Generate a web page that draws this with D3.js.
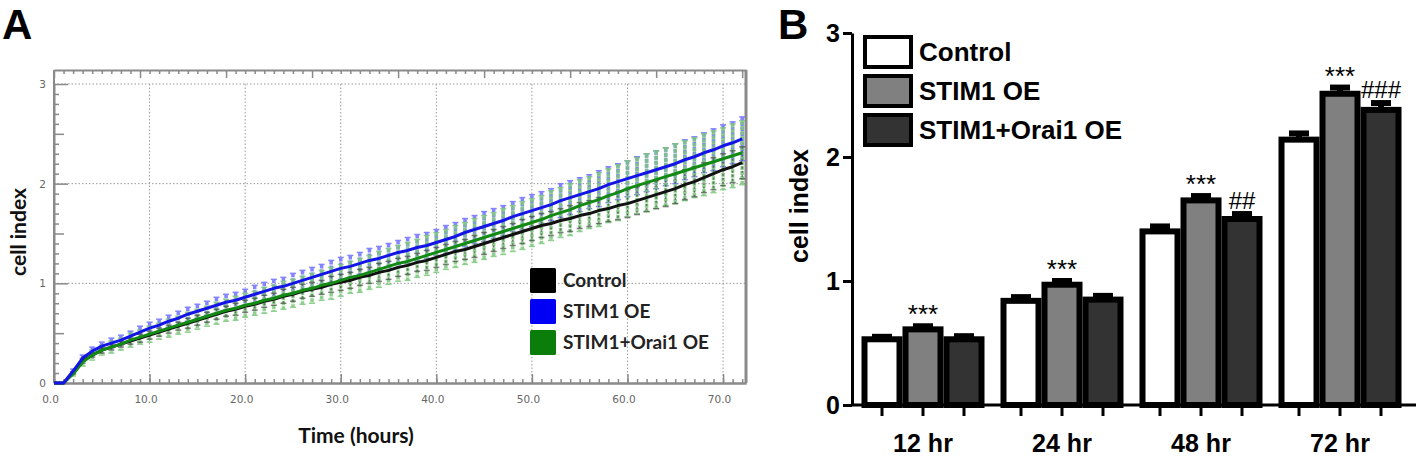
<!DOCTYPE html>
<html>
<head>
<meta charset="utf-8">
<script src="https://cdn.jsdelivr.net/npm/d3@7"></script>
<style>
  body { margin: 0; background: #fff; }
  svg { display: block; }
</style>
</head>
<body>
<svg id="chart" width="1418" height="462"></svg>
<script>
// ---------- data: panel A (real-time cell index) ----------
var timeHours = [0,1,2,3,4,5,6,7,8,9,10,11,12,13,14,15,16,17,18,19,20,21,22,23,24,25,26,27,28,29,30,
  31,32,33,34,35,36,37,38,39,40,41,42,43,44,45,46,47,48,49,50,51,52,53,54,55,56,57,58,59,60,
  61,62,63,64,65,66,67,68,69,70,71,72];

var controlMean = [0,0,0.10,0.22,0.28,0.33,0.36,0.39,0.42,0.45,0.48,
  0.51,0.54,0.57,0.60,0.63,0.66,0.69,0.72,0.74,0.77,
  0.79,0.82,0.84,0.87,0.89,0.92,0.94,0.96,0.99,1.01,
  1.03,1.06,1.08,1.11,1.13,1.16,1.18,1.21,1.23,1.26,
  1.29,1.32,1.34,1.37,1.40,1.43,1.46,1.49,1.52,1.55,
  1.58,1.60,1.63,1.65,1.68,1.70,1.73,1.75,1.78,1.80,
  1.83,1.86,1.89,1.92,1.95,1.99,2.02,2.06,2.10,2.14,2.17,2.21];

var stim1Mean = [0,0,0.12,0.25,0.32,0.37,0.40,0.43,0.47,0.51,0.55,
  0.58,0.62,0.65,0.69,0.72,0.75,0.78,0.81,0.83,0.86,
  0.89,0.92,0.95,0.97,1.00,1.03,1.06,1.09,1.12,1.15,
  1.17,1.20,1.23,1.25,1.28,1.31,1.33,1.36,1.38,1.41,
  1.44,1.47,1.51,1.54,1.57,1.60,1.63,1.67,1.70,1.73,
  1.76,1.79,1.83,1.86,1.89,1.92,1.95,1.99,2.02,2.05,
  2.08,2.11,2.14,2.17,2.20,2.24,2.27,2.31,2.34,2.38,2.41,2.45];

var orai1Mean = [0,0,0.09,0.21,0.28,0.33,0.36,0.39,0.43,0.46,0.49,
  0.52,0.55,0.58,0.61,0.64,0.67,0.70,0.73,0.75,0.78,
  0.80,0.83,0.85,0.88,0.90,0.93,0.95,0.98,1.00,1.03,
  1.06,1.08,1.11,1.14,1.17,1.20,1.22,1.25,1.28,1.31,
  1.34,1.37,1.40,1.43,1.46,1.49,1.52,1.55,1.58,1.61,
  1.64,1.68,1.71,1.74,1.78,1.81,1.84,1.88,1.91,1.95,
  1.98,2.01,2.04,2.07,2.10,2.13,2.16,2.19,2.22,2.25,2.28,2.31];

var controlErr = [0,0,0.01,0.02,0.02,0.03,0.03,0.03,0.03,0.04,0.04,
  0.04,0.04,0.04,0.05,0.05,0.05,0.05,0.05,0.06,0.06,
  0.06,0.06,0.06,0.07,0.07,0.07,0.07,0.07,0.08,0.08,
  0.08,0.08,0.08,0.09,0.09,0.09,0.09,0.09,0.10,0.10,
  0.10,0.10,0.10,0.11,0.11,0.11,0.11,0.11,0.12,0.12,
  0.12,0.12,0.12,0.13,0.13,0.13,0.13,0.13,0.14,0.14,
  0.14,0.14,0.14,0.15,0.15,0.15,0.15,0.15,0.16,0.16,0.16,0.16];

var stim1Err = [0,0,0.02,0.03,0.04,0.04,0.05,0.05,0.05,0.06,0.06,
  0.06,0.06,0.07,0.07,0.07,0.07,0.08,0.08,0.08,0.08,
  0.09,0.09,0.09,0.09,0.10,0.10,0.10,0.10,0.11,0.11,
  0.11,0.11,0.12,0.12,0.12,0.12,0.13,0.13,0.13,0.13,
  0.14,0.14,0.14,0.14,0.15,0.15,0.15,0.15,0.16,0.16,
  0.16,0.16,0.17,0.17,0.17,0.17,0.18,0.18,0.18,0.18,
  0.19,0.19,0.19,0.19,0.20,0.20,0.20,0.20,0.21,0.21,0.21,0.22];

var orai1Err = [0,0,0.02,0.04,0.05,0.05,0.06,0.06,0.07,0.07,0.08,
  0.08,0.09,0.09,0.10,0.10,0.10,0.11,0.11,0.12,0.12,
  0.12,0.13,0.13,0.14,0.14,0.14,0.15,0.15,0.16,0.16,
  0.16,0.17,0.17,0.18,0.18,0.18,0.19,0.19,0.20,0.20,
  0.20,0.21,0.21,0.22,0.22,0.22,0.23,0.23,0.24,0.24,
  0.24,0.25,0.25,0.26,0.26,0.26,0.27,0.27,0.28,0.28,
  0.28,0.29,0.29,0.29,0.30,0.30,0.30,0.31,0.31,0.31,0.32,0.32];

var lineSeries = ["Control", "STIM1 OE", "STIM1+Orai1 OE"];
var xTicksA = [0, 10, 20, 30, 40, 50, 60, 70];
var yTicksA = [0, 1, 2, 3];

// ---------- data: panel B (bar chart) ----------
var timeGroups = ["12 hr", "24 hr", "48 hr", "72 hr"];
var barSeries = ["Control", "STIM1 OE", "STIM1+Orai1 OE"];
var controlBar = [0.53, 0.84, 1.40, 2.14];
var stim1Bar = [0.61, 0.97, 1.65, 2.51];
var orai1Bar = [0.53, 0.85, 1.50, 2.38];
var controlSem = [0.02, 0.03, 0.04, 0.05];
var stim1Sem = [0.025, 0.03, 0.035, 0.05];
var orai1Sem = [0.025, 0.03, 0.04, 0.055];
var stim1Marks = ["***", "***", "***", "***"];
var orai1Marks = ["", "", "##", "###"];
var yTicksB = [0, 1, 2, 3];

var svg = d3.select("#chart");

// panel letters
svg.append("text").attr("x", 2).attr("y", 39)
    .style("font-family", "Liberation Sans, Arial, sans-serif")
    .style("font-weight", "bold").style("font-size", "42px").text("A");
svg.append("text").attr("x", 778).attr("y", 39)
    .style("font-family", "Liberation Sans, Arial, sans-serif")
    .style("font-weight", "bold").style("font-size", "42px").text("B");

// ================= Panel A =================
var xA = d3.scaleLinear().domain([0, 72.4]).range([54, 746]);
var yA = d3.scaleLinear().domain([0, 3]).range([383, 84]);
var frameTop = 70;
var gA = svg.append("g");
var axisGray = "#8a8a8a";

// dotted grid
gA.selectAll(".vgrid").data(xTicksA.slice(1)).join("line")
    .attr("class", "vgrid")
    .attr("x1", d => xA(d)).attr("x2", d => xA(d))
    .attr("y1", yA(3)).attr("y2", yA(0))
    .attr("stroke", "#9a9a9a").attr("stroke-width", 1)
    .attr("stroke-dasharray", "1.5,2");
gA.selectAll(".hgrid").data(yTicksA.slice(1)).join("line")
    .attr("class", "hgrid")
    .attr("x1", xA(0)).attr("x2", xA(72.4))
    .attr("y1", d => yA(d)).attr("y2", d => yA(d))
    .attr("stroke", "#9a9a9a").attr("stroke-width", 1)
    .attr("stroke-dasharray", "1.5,2");

function styleAxisA(g) {
    g.selectAll("path").attr("stroke", axisGray).attr("stroke-width", 2);
    g.selectAll("line").attr("stroke", axisGray).attr("stroke-width", 1.5);
    g.selectAll("text").attr("fill", "#666")
        .style("font-family", "DejaVu Sans, sans-serif").style("font-size", "10.5px");
}

// bottom axis: minor ticks every hour, major every 10 h, all pointing up
gA.append("g").attr("transform", "translate(0,383)")
    .call(d3.axisBottom(xA).tickValues(timeHours).tickSize(-4).tickSizeOuter(0).tickFormat(""))
    .call(styleAxisA);
gA.append("g").attr("transform", "translate(0,383)")
    .call(d3.axisBottom(xA).tickValues(xTicksA).tickSize(-9).tickSizeOuter(0)
        .tickPadding(13).tickFormat(d3.format(".1f")))
    .call(styleAxisA)
    .call(g => g.selectAll("text").attr("dx", -4));

// top frame with its own ticks (every hour, long every 9 h)
gA.append("g").attr("transform", "translate(0," + frameTop + ")")
    .call(d3.axisBottom(xA).tickValues(timeHours).tickSize(4).tickSizeOuter(0).tickFormat(""))
    .call(styleAxisA)
    .call(g => g.selectAll(".tick line").attr("y2", d => d % 9 === 0 ? 8 : 4));

// left axis: minor 0.1, mid 0.5, major 1
var minorY = d3.range(0, 31).map(i => i / 10);
gA.append("g").attr("transform", "translate(54,0)")
    .call(d3.axisLeft(yA).tickValues(minorY).tickSize(-5).tickSizeOuter(0).tickFormat(""))
    .call(styleAxisA)
    .call(g => g.selectAll(".tick line").attr("x2", (d, i) => i % 10 === 0 ? 14 : (i % 5 === 0 ? 10 : 5)));
gA.append("g").attr("transform", "translate(54,0)")
    .call(d3.axisLeft(yA).tickValues(yTicksA).tickSize(0).tickSizeOuter(0).tickPadding(8).tickFormat(d3.format("d")))
    .call(styleAxisA)
    .call(g => g.select("path").attr("d", "M0," + frameTop + "V383"));

// right frame line
gA.append("line")
    .attr("x1", xA(72.4)).attr("x2", xA(72.4))
    .attr("y1", frameTop).attr("y2", 383)
    .attr("stroke", axisGray).attr("stroke-width", 3);

// error bars + lines
var seriesA = [
    { name: "STIM1 OE", mean: stim1Mean, err: stim1Err, line: "#1414e6", bar: "#7777ff", op: 0.9 },
    { name: "STIM1+Orai1 OE", mean: orai1Mean, err: orai1Err, line: "#138a13", bar: "#7cc77c", op: 0.85 },
    { name: "Control", mean: controlMean, err: controlErr, line: "#111111", bar: "#333333", op: 0.6 }
];

seriesA.forEach(function(s) {
    var pts = timeHours.map((t, i) => ({ t: t, v: s.mean[i], e: s.err[i] })).filter(p => p.e > 0);
    var eg = gA.append("g").attr("opacity", s.op);
    eg.selectAll("line.eb").data(pts).join("line")
        .attr("class", "eb")
        .attr("x1", d => xA(d.t)).attr("x2", d => xA(d.t))
        .attr("y1", d => yA(d.v + d.e)).attr("y2", d => yA(d.v - d.e))
        .attr("stroke", s.bar).attr("stroke-width", s.name === "Control" ? 1.5 : 3.5)
        .attr("stroke-dasharray", s.name === "Control" ? "2,2" : "4,1");
    eg.selectAll("line.cap").data(pts.flatMap(d => [d.v + d.e, d.v - d.e].map(y => ({ t: d.t, y: y })))).join("line")
        .attr("class", "cap")
        .attr("x1", d => xA(d.t) - 3).attr("x2", d => xA(d.t) + 3)
        .attr("y1", d => yA(d.y)).attr("y2", d => yA(d.y))
        .attr("stroke", s.bar).attr("stroke-width", 1.5);
});

var lineA = d3.line().x((d, i) => xA(timeHours[i])).y(d => yA(d));
[seriesA[2], seriesA[1], seriesA[0]].forEach(function(s) {
    gA.append("path").datum(s.mean)
        .attr("d", lineA)
        .attr("fill", "none")
        .attr("stroke", s.line)
        .attr("stroke-width", 3)
        .attr("stroke-linejoin", "round");
});

// axis titles A
gA.append("text")
    .attr("x", 356).attr("y", 443)
    .attr("text-anchor", "middle")
    .style("font-family", "Lato, sans-serif").style("font-weight", "bold").style("font-size", "21px")
    .attr("fill", "#111").text("Time (hours)");
gA.append("text")
    .attr("transform", "translate(26,232) rotate(-90)")
    .attr("text-anchor", "middle")
    .style("font-family", "Lato, sans-serif").style("font-weight", "bold").style("font-size", "21px")
    .attr("fill", "#111").text("cell index");

// legend A
var legendColorsA = { "Control": "#000000", "STIM1 OE": "#0000f5", "STIM1+Orai1 OE": "#0a7d0a" };
var legA = gA.append("g").attr("transform", "translate(530,268)");
lineSeries.forEach(function(name, i) {
    legA.append("rect")
        .attr("x", 0).attr("y", i * 31)
        .attr("width", 26).attr("height", 25)
        .attr("rx", 1.5)
        .attr("fill", legendColorsA[name]);
    legA.append("text")
        .attr("x", 33).attr("y", i * 31 + 12.5).attr("dy", "0.35em")
        .style("font-family", "Lato, sans-serif").style("font-weight", "bold").style("font-size", "19px")
        .attr("fill", "#222").text(name);
});

// ================= Panel B =================
var yB = d3.scaleLinear().domain([0, 3]).range([405, 33]);
var xGroup = d3.scalePoint().domain(timeGroups).range([923, 1340]);
var xSub = d3.scaleBand().domain(barSeries).range([-61.5, 61.5]);
var gB = svg.append("g");
var fontB = "Liberation Sans, Arial, sans-serif";

var barFill = { "Control": "#ffffff", "STIM1 OE": "#808080", "STIM1+Orai1 OE": "#333333" };
var barData = [];
timeGroups.forEach(function(g, i) {
    barData.push({ group: g, series: "Control", v: controlBar[i], e: controlSem[i], mark: "" });
    barData.push({ group: g, series: "STIM1 OE", v: stim1Bar[i], e: stim1Sem[i], mark: stim1Marks[i] });
    barData.push({ group: g, series: "STIM1+Orai1 OE", v: orai1Bar[i], e: orai1Sem[i], mark: orai1Marks[i] });
});
function barCx(d) { return xGroup(d.group) + xSub(d.series) + xSub.bandwidth() / 2; }

var barW = 35;
// error bars (drawn first, upper half only)
gB.selectAll(".err").data(barData).join("line")
    .attr("x1", barCx).attr("x2", barCx)
    .attr("y1", d => yB(d.v)).attr("y2", d => yB(d.v + d.e))
    .attr("stroke", "#000").attr("stroke-width", 6);
gB.selectAll(".cap").data(barData).join("line")
    .attr("x1", d => barCx(d) - 10).attr("x2", d => barCx(d) + 10)
    .attr("y1", d => yB(d.v + d.e)).attr("y2", d => yB(d.v + d.e))
    .attr("stroke", "#000").attr("stroke-width", 6);

gB.selectAll(".bar").data(barData).join("rect")
    .attr("x", d => barCx(d) - barW / 2)
    .attr("width", barW)
    .attr("y", d => yB(d.v))
    .attr("height", d => yB(0) - yB(d.v))
    .attr("fill", d => barFill[d.series])
    .attr("stroke", "#000").attr("stroke-width", 6);

// significance marks
gB.selectAll(".mark").data(barData.filter(d => d.mark)).join("text")
    .attr("x", barCx)
    .attr("y", d => yB(d.v + d.e) - (d.mark[0] === "*" ? 3 : 5))
    .attr("text-anchor", "middle")
    .style("font-family", fontB)
    .style("font-size", d => d.mark[0] === "*" ? "26px" : "24px")
    .text(d => d.mark);

// y axis
gB.append("g").attr("transform", "translate(852,0)")
    .call(d3.axisLeft(yB).tickValues(yTicksB).tickSize(9).tickSizeOuter(0).tickPadding(3).tickFormat(d3.format("d")))
    .call(g => g.selectAll("path, line").attr("stroke", "#000").attr("stroke-width", 3))
    .call(g => g.selectAll("text").attr("fill", "#000")
        .style("font-family", fontB).style("font-weight", "bold").style("font-size", "25px"));

// x axis line with a tick under every bar
gB.append("line")
    .attr("x1", 851).attr("x2", 1416)
    .attr("y1", yB(0)).attr("y2", yB(0))
    .attr("stroke", "#000").attr("stroke-width", 3);
gB.selectAll(".xtick").data(barData).join("line")
    .attr("x1", barCx).attr("x2", barCx)
    .attr("y1", yB(0)).attr("y2", yB(0) + 11)
    .attr("stroke", "#000").attr("stroke-width", 3);
gB.selectAll(".xlabel").data(timeGroups).join("text")
    .attr("x", d => xGroup(d)).attr("y", 452)
    .attr("text-anchor", "middle")
    .style("font-family", fontB).style("font-weight", "bold").style("font-size", "25px")
    .text(d => d);

gB.append("text")
    .attr("transform", "translate(808,206) rotate(-90)")
    .attr("text-anchor", "middle")
    .style("font-family", fontB).style("font-weight", "bold").style("font-size", "25px")
    .text("cell index");

// legend B
var legB = gB.append("g").attr("transform", "translate(865,37)");
barSeries.forEach(function(name, i) {
    legB.append("rect")
        .attr("x", 0).attr("y", i * 39)
        .attr("width", 46).attr("height", 30)
        .attr("fill", barFill[name])
        .attr("stroke", "#000").attr("stroke-width", 4);
    legB.append("text")
        .attr("x", 54).attr("y", i * 39 + 15).attr("dy", "0.36em")
        .style("font-family", fontB).style("font-weight", "bold").style("font-size", "26px")
        .text(name);
});
</script>
</body>
</html>
